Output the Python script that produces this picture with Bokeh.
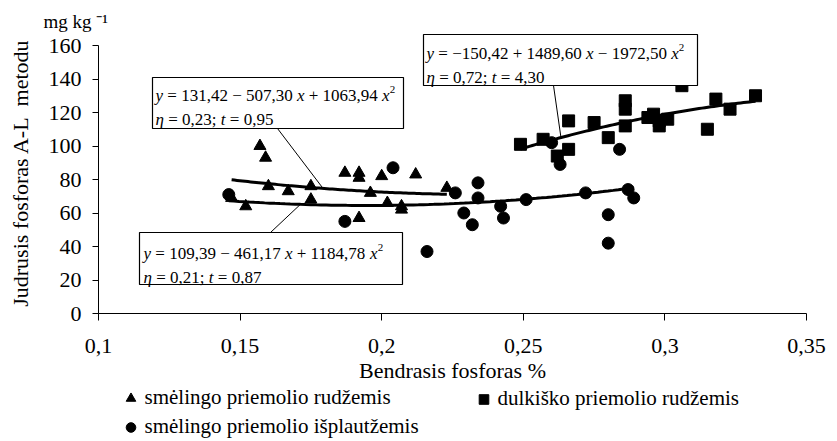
import numpy as np
from bokeh.plotting import figure
from bokeh.layouts import column
from bokeh.models import (Label, BoxAnnotation, Legend, LegendItem, FixedTicker, Range1d)
from bokeh.embed import file_html
from bokeh.resources import INLINE

# ---------------- data ----------------
tri_x = [0.147, 0.152, 0.157, 0.159, 0.160, 0.167, 0.175, 0.175, 0.187, 0.192,
         0.192, 0.192, 0.196, 0.200, 0.202, 0.207, 0.207, 0.212, 0.223]
tri_y = [69, 64, 100, 93, 76, 73, 76, 68, 84, 84, 81, 57, 72, 82, 66, 64, 62, 83, 75]

cir_x = [0.146, 0.187, 0.204, 0.216, 0.226, 0.229, 0.232, 0.234, 0.234, 0.242,
         0.243, 0.251, 0.260, 0.263, 0.272, 0.280, 0.280, 0.284, 0.287, 0.289]
cir_y = [71, 55, 87, 37, 72, 60, 53, 78, 69, 64, 57, 68, 102, 89, 72, 59, 42, 98, 74, 69]

sq_x = [0.249, 0.257, 0.262, 0.266, 0.266, 0.275, 0.280, 0.286, 0.286, 0.286,
        0.294, 0.296, 0.298, 0.298, 0.301, 0.306, 0.315, 0.318, 0.323, 0.332]
sq_y = [101, 104, 94, 115, 98, 114, 105, 127, 122, 112, 117, 119, 115, 112, 116, 136, 110, 128, 122, 130]

# regression coefficients (a + b x + c x^2) as printed on the chart
tri_coef = [131.42, -507.30, 1063.94]
cir_coef = [109.39, -461.17, 1184.78]
sq_coef = [-150.42, 1489.60, -1972.50]

series_names = ["smėlingo priemolio rudžemis", "dulkiško priemolio rudžemis",
                "smėlingo priemolio išplautžemis"]

x_ticks = [0.1, 0.15, 0.2, 0.25, 0.3, 0.35]
x_tick_labels = ["0,1", "0,15", "0,2", "0,25", "0,3", "0,35"]
y_ticks = [0, 20, 40, 60, 80, 100, 120, 140, 160]

x_title = "Bendrasis fosforas %"
y_title = "Judrusis fosforas A-L\u00a0 metodu"
unit_text = "mg kg \u207b\u00b9"

# equations: (text, style) segments ; r = roman, i = italic, s = superscript
eq_tri = [[("y", "i"), (" = 131,42 − 507,30 ", "r"), ("x", "i"), (" + 1063,94 ", "r"), ("x", "i"), ("2", "s")],
          [("η", "i"), (" = 0,23; ", "r"), ("t", "i"), (" = 0,95", "r")]]
eq_sq = [[("y", "i"), (" = −150,42 + 1489,60 ", "r"), ("x", "i"), (" − 1972,50 ", "r"), ("x", "i"), ("2", "s")],
         [("η", "i"), (" = 0,72; ", "r"), ("t", "i"), (" = 4,30", "r")]]
eq_cir = [[("y", "i"), (" = 109,39 − 461,17 ", "r"), ("x", "i"), (" + 1184,78 ", "r"), ("x", "i"), ("2", "s")],
          [("η", "i"), (" = 0,21; ", "r"), ("t", "i"), (" = 0,87", "r")]]

# ---------------- layout (canvas pixels) ----------------
W, H = 837, 441
MAIN_H = 385                      # main chart; legend strip below it
FL, FR, FT, FB = 98, 806, 32, 313
X0, X1 = 0.1, 0.35
Y0 = 0.0
Y1 = 160.0 * (FB - FT) / (FB - 45)   # 160 lands at pixel row 45

def dx(px):
    return X0 + (px - FL) / (FR - FL) * (X1 - X0)

def dy(py):
    return Y0 + (FB - py) / (FB - FT) * (Y1 - Y0)

FONT = "Liberation Serif"

p = figure(width=W, height=MAIN_H, x_range=Range1d(X0, X1), y_range=Range1d(Y0, Y1),
           output_backend="svg", toolbar_location=None,
           min_border_left=FL, min_border_right=W - FR,
           min_border_top=FT, min_border_bottom=MAIN_H - FB)
p.background_fill_color = "white"
p.border_fill_color = "white"
p.outline_line_color = None
p.xgrid.visible = False
p.ygrid.visible = False

# unit label as the title (above, left aligned)
p.title.text = unit_text
p.title.text_font = FONT
p.title.text_font_size = "19px"
p.title.text_font_style = "normal"
p.title.text_color = "black"
p.title.align = "left"
p.title.offset = 43 - FL
p.title.standoff = 1

p.xaxis.ticker = FixedTicker(ticks=x_ticks)
p.xaxis.major_label_overrides = {t: l for t, l in zip(x_ticks, x_tick_labels)}
p.yaxis.ticker = FixedTicker(ticks=y_ticks)
p.xaxis.bounds = (X0, X1)
p.yaxis.bounds = (0, 160)

p.axis.axis_line_color = "black"
p.axis.axis_line_width = 1
p.axis.major_tick_line_color = "black"
p.axis.major_tick_in = 0
p.axis.minor_tick_line_color = None
p.axis.major_label_text_font = FONT
p.axis.major_label_text_font_size = "22px"
p.axis.major_label_text_color = "black"
p.axis.axis_label_text_font = FONT
p.axis.axis_label_text_font_size = "22px"
p.axis.axis_label_text_font_style = "normal"
p.axis.axis_label_text_color = "black"

p.xaxis.major_tick_out = 7
p.yaxis.major_tick_out = 6
p.xaxis.major_label_standoff = 18
p.yaxis.major_label_standoff = 11
p.xaxis.axis_label = x_title
p.xaxis.axis_label_standoff = 2
p.yaxis.axis_label = y_title
p.yaxis.axis_label_standoff = 13

# ---------------- marks ----------------
p.scatter(tri_x, tri_y, marker="triangle", size=12, color="black")
p.scatter(sq_x, sq_y, marker="square", size=12, color="black")
p.scatter(cir_x, cir_y, marker="circle", size=12, color="black")

def poly(c, x):
    return c[0] + c[1] * x + c[2] * x ** 2

for xs, c in ((tri_x, tri_coef), (cir_x, cir_coef), (sq_x, sq_coef)):
    xx = np.linspace(min(xs), max(xs), 80)
    p.line(xx, poly(c, xx), line_color="black", line_width=3)

# ---------------- equation boxes ----------------
boxes = [
    dict(rect=(152, 77, 403, 128), tx=155, base=(95, 119), eq=eq_tri,
         lead_from=(277, 128), lead_x=0.1793, coef=tri_coef),
    dict(rect=(423, 34, 697, 85), tx=426, base=(53, 77), eq=eq_sq,
         lead_from=(553, 85), lead_x=0.2633, coef=sq_coef),
    dict(rect=(139, 232, 402, 284), tx=143, base=(253, 277), eq=eq_cir,
         lead_from=(270, 232), lead_x=0.1713, coef=cir_coef),
]

NB = "\u00a0"
ROMAN_W = {NB: 0.25, ",": 0.25, "=": 0.564, "+": 0.564, "−": 0.564, ";": 0.278}
ITAL_W = {"y": 0.444, "x": 0.444, "t": 0.278, "η": 0.5}
EQ_SIZE = 17
SUP_SIZE = 11

def seg_width(text, style):
    if style == "s":
        return 0.5 * SUP_SIZE
    if style == "i":
        return sum(ITAL_W.get(ch, 0.5) for ch in text) * EQ_SIZE
    return sum(ROMAN_W.get(ch, 0.5) for ch in text) * EQ_SIZE

for b in boxes:
    l, t, r, bt = b["rect"]
    p.add_layout(BoxAnnotation(left=dx(l), right=dx(r), top=dy(t), bottom=dy(bt),
                               fill_color="white", fill_alpha=1.0,
                               line_color="black", line_width=1.2, line_alpha=1.0))
    for line, base in zip(b["eq"], b["base"]):
        off = 0.0
        for text, style in line:
            text = text.replace(" ", NB)
            lab = Label(x=dx(b["tx"]), y=dy(base), x_offset=off,
                        y_offset=6 if style == "s" else 0,
                        text=text, text_font=FONT,
                        text_font_size=f"{SUP_SIZE if style == 's' else EQ_SIZE}px",
                        text_font_style="italic" if style == "i" else "normal",
                        text_color="black", text_baseline="alphabetic", text_align="left")
            p.add_layout(lab)
            off += seg_width(text, style)
    lx0, ly0 = b["lead_from"]
    p.segment(x0=[dx(lx0)], y0=[dy(ly0)], x1=[b["lead_x"]], y1=[poly(b["coef"], b["lead_x"])],
              line_color="black", line_width=1)

# ---------------- legend strip (separate figure under the chart) ----------------
LEG_H = H - MAIN_H
pl = figure(width=W, height=LEG_H, x_range=Range1d(0, 1), y_range=Range1d(1000, 1001),
            x_axis_type=None, y_axis_type=None, output_backend="svg", toolbar_location=None,
            min_border=0, min_border_left=0, min_border_right=0,
            min_border_top=0, min_border_bottom=0)
pl.outline_line_color = None
pl.background_fill_color = "white"
pl.border_fill_color = "white"
pl.grid.visible = False
# legend-only renderers (their points lie outside this strip's view)
l_tri = pl.scatter(tri_x, tri_y, marker="triangle", size=12, color="black")
l_sq = pl.scatter(sq_x, sq_y, marker="square", size=12, color="black")
l_cir = pl.scatter(cir_x, cir_y, marker="circle", size=12, color="black")

ROW_H = 24
SPACING = 4
DROP = 2   # keep the first row's text fully inside the strip

def make_legend(items, loc):
    return Legend(items=items, location=loc, orientation="vertical",
                  border_line_color=None, background_fill_alpha=0.0,
                  padding=0, margin=0, spacing=SPACING,
                  glyph_width=25, glyph_height=ROW_H, label_height=ROW_H,
                  label_standoff=2, label_text_font=FONT, label_text_font_size="21px",
                  label_text_color="black")

# the strip's frame is aligned with the main chart's frame (left edge at FL)
legA = make_legend([LegendItem(label=series_names[0], renderers=[l_tri]),
                    LegendItem(label=series_names[2], renderers=[l_cir])],
                   (117.5 - FL, LEG_H - (2 * ROW_H + SPACING) - DROP))
legB = make_legend([LegendItem(label=series_names[1], renderers=[l_sq])],
                   (470.5 - FL, LEG_H - ROW_H - DROP))
pl.add_layout(legA)
pl.add_layout(legB)

layout = column(p, pl, spacing=0)
open("out.html", "w").write(file_html(layout, INLINE))
